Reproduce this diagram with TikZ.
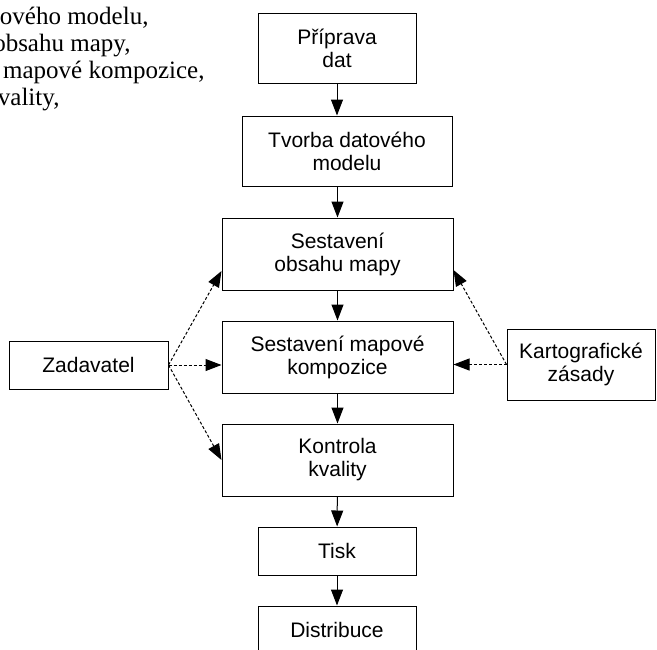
\documentclass[tikz,border=0pt]{standalone}
\usepackage{fontspec}
\setmainfont{Liberation Sans}
\newfontfamily\notefont{Liberation Serif}
\usetikzlibrary{arrows.meta}

\begin{document}
\begin{tikzpicture}[x=1pt,y=-1pt,line width=1pt,>={Triangle[length=16pt,width=12pt]}]
	\tikzset{box/.style={draw,align=center,inner sep=0pt,font=\fontsize{21}{23}\selectfont},
		note/.style={anchor=base east,inner sep=0pt,font=\notefont\fontsize{25}{27}\selectfont},
		hint/.style={->,dash pattern=on 3pt off 2pt}}
	\useasboundingbox (0,0) rectangle (657,649);
	\clip (0,0) rectangle (657,649);
	% cut list on the left
	\node[note] (l1) at (149,24) {ového modelu,};
	\node[note] (l2) at (131,51) {obsahu mapy,};
	\node[note] (l3) at (205,78) {mapové kompozice,};
	\node[note] (l4) at (60,105) {vality,};
	% main chain
	\node[box,minimum width=158pt,minimum height=70pt] (prep) at (337,48) {Příprava\\dat};
	\node[box,minimum width=210pt,minimum height=70pt] (model) at (347,151) {Tvorba datového\\modelu};
	\node[box,minimum width=231pt,minimum height=72pt] (obsah) at (337.5,254) {Sestavení\\obsahu mapy};
	\node[box,minimum width=231pt,minimum height=72pt] (komp) at (337.5,357) {Sestavení mapové\\kompozice};
	\node[box,minimum width=231pt,minimum height=72pt] (kontrola) at (337.5,460) {Kontrola\\kvality};
	\node[box,minimum width=158pt,minimum height=48pt] (tisk) at (337,551) {Tisk};
	\node[box,minimum width=158pt,minimum height=48pt] (distr) at (337,630) {Distribuce};
	% side inputs
	\node[box,minimum width=159pt,minimum height=48pt] (zad) at (88.5,365) {Zadavatel};
	\node[box,minimum width=148pt,minimum height=71pt] (kart) at (581,364.5) {Kartografické\\zásady};
	\draw[->] (prep.south) -- (prep.south |- model.north);
	\draw[->] (obsah.north |- model.south) -- (obsah.north);
	\draw[->] (obsah) -- (komp);
	\draw[->] (komp) -- (kontrola);
	\draw[->] (kontrola) -- (tisk);
	\draw[->] (tisk) -- (distr);
	\draw[hint] (zad.east) -- ([yshift=-17pt]obsah.west);
	\draw[hint] (zad.east) -- (zad.east -| komp.west);
	\draw[hint] (zad.east) -- (kontrola.west);
	\draw[hint] (kart.west) -- ([yshift=-16pt]obsah.east);
	\draw[hint] (kart.west) -- (kart.west -| komp.east);
\end{tikzpicture}
\end{document}
